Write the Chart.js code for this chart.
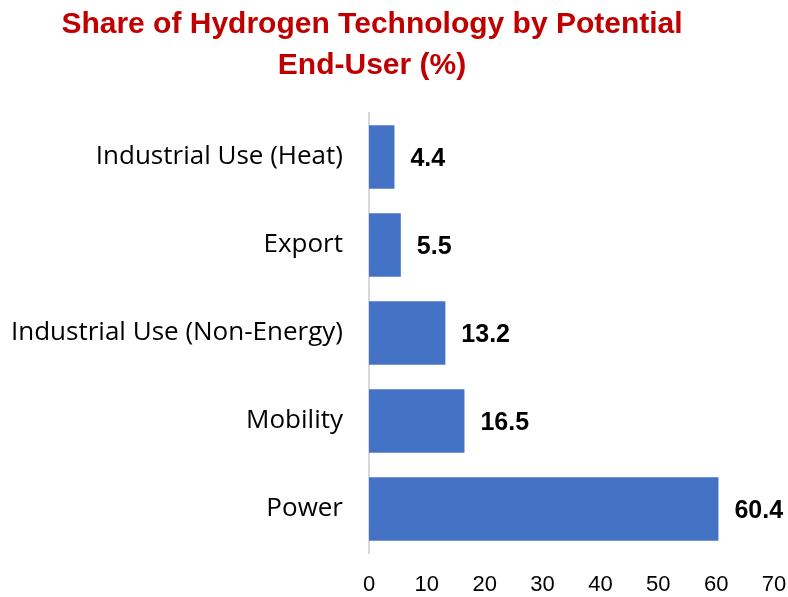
<!DOCTYPE html>
<html><head><meta charset="utf-8">
<script src="https://cdn.jsdelivr.net/npm/chart.js@4/dist/chart.umd.min.js"></script>
<style>
html,body{margin:0;padding:0;background:#fff;}
#wrap{position:relative;width:788px;height:597px;}
#title{position:absolute;left:0;top:2px;width:744px;text-align:center;color:#C00000;font-family:"Liberation Sans Narrow","Arial Narrow","Liberation Sans",sans-serif;font-weight:bold;font-size:30px;line-height:41px;}
canvas{position:absolute;left:0;top:0;}
</style></head><body>
<div id="wrap">
<canvas id="c" width="788" height="597"></canvas>
<div id="title">Share of Hydrogen Technology by Potential<br>End-User (%)</div>
</div>
<script>
const categories = ["Industrial Use (Heat)", "Export", "Industrial Use (Non-Energy)", "Mobility", "Power"];
const shares = [4.4, 5.5, 13.2, 16.5, 60.4];
const xTicks = [0, 10, 20, 30, 40, 50, 60, 70];

const labelPlugin = {
  id: 'barLabels',
  afterDatasetsDraw(chart) {
    const ctx = chart.ctx;
    const meta = chart.getDatasetMeta(0);
    ctx.save();
    ctx.font = 'bold 25px "Liberation Sans", Arial, sans-serif';
    ctx.fillStyle = '#000';
    ctx.textAlign = 'left';
    ctx.textBaseline = 'middle';
    meta.data.forEach((bar, i) => {
      ctx.fillText(shares[i].toFixed(1), bar.x + 16, bar.y + 2);
    });
    ctx.restore();
  }
};

new Chart(document.getElementById('c'), {
  type: 'bar',
  data: {
    labels: categories,
    datasets: [{
      data: shares,
      backgroundColor: '#4472C4',
      borderWidth: 0,
      categoryPercentage: 1,
      barPercentage: 0.72
    }]
  },
  options: {
    indexAxis: 'y',
    responsive: false,
    animation: false,
    layout: { padding: { top: 113, right: 0, bottom: 0, left: 0 } },
    plugins: { legend: { display: false }, tooltip: { enabled: false } },
    scales: {
      x: {
        min: 0, max: 70,
        afterBuildTicks: (s) => { s.ticks = xTicks.map(v => ({ value: v })); },
        afterFit: (s) => { s.height = 44; s.paddingRight = 14; s.paddingLeft = 0; },
        grid: { display: false, drawTicks: false },
        border: { display: false },
        ticks: { padding: 19, maxRotation: 0, color: '#000', font: { family: '"Liberation Sans", Arial, sans-serif', size: 22 } }
      },
      y: {
        afterFit: (s) => { s.width = 369; },
        grid: { display: false, drawTicks: false },
        border: { display: true, color: '#d9d9d9', width: 2 },
        ticks: { padding: 26, color: '#000', font: { family: '"Open Sans", sans-serif', size: 26 } }
      }
    }
  },
  plugins: [labelPlugin]
});
</script>
</body></html>
